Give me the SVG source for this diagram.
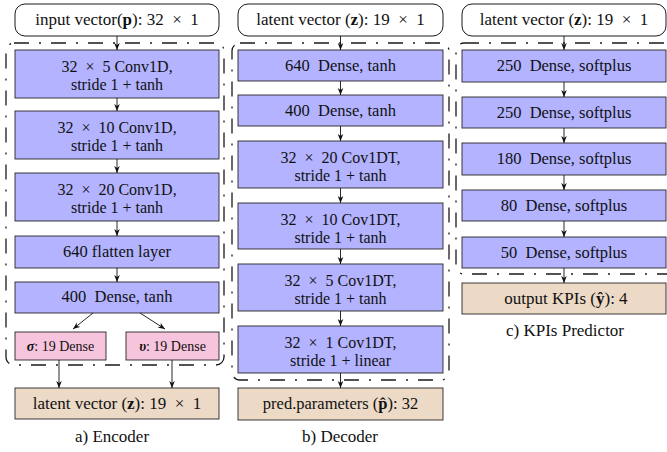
<svg xmlns="http://www.w3.org/2000/svg" width="667" height="452" viewBox="0 0 667 452" font-family="'Liberation Serif', 'DejaVu Serif', serif">
  <style>
    text{font-family:"Liberation Serif","DejaVu Serif",serif;font-size:16.5px;fill:#111;text-anchor:middle}
    .two{font-size:16px}
    .lbl{font-size:17px}
    .sm{font-size:14px}
    .cap{font-size:17px}
    .blk{fill:#b3b3ff;stroke:#262626;stroke-width:0.9}
    .pink{fill:#f7c4dd;stroke:#262626;stroke-width:0.9}
    .tan{fill:#ecd9c6;stroke:#262626;stroke-width:0.9}
    .inp{fill:#fff;stroke:#1a1a1a;stroke-width:1}
    .grp{fill:none;stroke:#1a1a1a;stroke-width:1.3;stroke-dasharray:15 10 2 10}
    .arr{fill:none;stroke:#111;stroke-width:0.9;marker-end:url(#ah)}
    .b{font-weight:bold}
    .bi{font-weight:bold;font-style:italic}
  </style>
  <defs>
    <marker id="ah" viewBox="0 0 10 10" refX="10" refY="5" markerWidth="7" markerHeight="7" orient="auto" markerUnits="userSpaceOnUse">
      <path d="M0,1 L10,5 L0,9 L3,5 z" fill="#111"/>
    </marker>
  </defs>

  <!-- dash-dot frames around each network -->
  <g id="frames">
    <rect class="grp" x="6" y="43" width="218" height="322" rx="8"/>
    <rect class="grp" x="232" y="43" width="217" height="337" rx="8"/>
    <rect class="grp" x="456" y="43" width="222" height="231" rx="8"/>
  </g>

  <!-- a) Encoder -->
  <g id="enc-in"><rect class="inp" x="15" y="4" width="204" height="32" rx="10"/>
    <text class="lbl" x="117" y="25">input vector(<tspan class="b">p</tspan>): 32 &#160;× &#160;1</text></g>
  <g id="enc-conv5"><rect class="blk" x="15" y="50" width="204" height="48"/>
    <text class="two" x="117" y="72">32 &#160;× &#160;5 Conv1D,<tspan x="117" dy="18">stride 1 + tanh</tspan></text></g>
  <g id="enc-conv10"><rect class="blk" x="15" y="111" width="204" height="48"/>
    <text class="two" x="117" y="133">32 &#160;× &#160;10 Conv1D,<tspan x="117" dy="18">stride 1 + tanh</tspan></text></g>
  <g id="enc-conv20"><rect class="blk" x="15" y="173" width="204" height="48"/>
    <text class="two" x="117" y="195">32 &#160;× &#160;20 Conv1D,<tspan x="117" dy="18">stride 1 + tanh</tspan></text></g>
  <g id="enc-flat"><rect class="blk" x="15" y="236" width="204" height="32"/>
    <text x="117" y="257">640 flatten layer</text></g>
  <g id="enc-dense"><rect class="blk" x="15" y="282" width="204" height="31"/>
    <text x="117" y="302">400 &#160;Dense, tanh</text></g>
  <g id="enc-sigma"><rect class="pink" x="15" y="332" width="91" height="28"/>
    <text class="sm" x="60.5" y="351"><tspan class="bi">σ</tspan>: 19 Dense</text></g>
  <g id="enc-upsilon"><rect class="pink" x="126" y="332" width="93" height="28"/>
    <text class="sm" x="172.5" y="351"><tspan class="bi">υ</tspan>: 19 Dense</text></g>
  <g id="enc-out"><rect class="tan" x="15" y="388" width="204" height="31"/>
    <text class="lbl" x="117" y="409">latent vector (<tspan class="b">z</tspan>): 19 &#160;× &#160;1</text></g>
  <text class="cap" x="112" y="442">a) Encoder</text>

  <!-- b) Decoder -->
  <g id="dec-in"><rect class="inp" x="238" y="4" width="205" height="32" rx="10"/>
    <text class="lbl" x="340.5" y="25">latent vector (<tspan class="b">z</tspan>): 19 &#160;× &#160;1</text></g>
  <g id="dec-d640"><rect class="blk" x="238" y="50" width="205" height="31"/>
    <text x="340.5" y="71">640 &#160;Dense, tanh</text></g>
  <g id="dec-d400"><rect class="blk" x="238" y="95" width="205" height="31"/>
    <text x="340.5" y="116">400 &#160;Dense, tanh</text></g>
  <g id="dec-t20"><rect class="blk" x="238" y="141" width="205" height="47"/>
    <text class="two" x="340.5" y="163">32 &#160;× &#160;20 Cov1DT,<tspan x="340.5" dy="18">stride 1 + tanh</tspan></text></g>
  <g id="dec-t10"><rect class="blk" x="238" y="203" width="205" height="46"/>
    <text class="two" x="340.5" y="225">32 &#160;× &#160;10 Cov1DT,<tspan x="340.5" dy="18">stride 1 + tanh</tspan></text></g>
  <g id="dec-t5"><rect class="blk" x="238" y="264" width="205" height="47"/>
    <text class="two" x="340.5" y="286">32 &#160;× &#160;5 Cov1DT,<tspan x="340.5" dy="18">stride 1 + tanh</tspan></text></g>
  <g id="dec-t1"><rect class="blk" x="238" y="326" width="205" height="47"/>
    <text class="two" x="340.5" y="348">32 &#160;× &#160;1 Cov1DT,<tspan x="340.5" dy="18">stride 1 + linear</tspan></text></g>
  <g id="dec-out"><rect class="tan" x="238" y="388" width="205" height="32"/>
    <text x="340.5" y="409">pred.parameters (<tspan class="b">p̂</tspan>): 32</text></g>
  <text class="cap" x="340" y="442">b) Decoder</text>

  <!-- c) KPIs Predictor -->
  <g id="kpi-in"><rect class="inp" x="462" y="4" width="204" height="32" rx="10"/>
    <text class="lbl" x="564" y="25">latent vector (<tspan class="b">z</tspan>): 19 &#160;× &#160;1</text></g>
  <g id="kpi-d250a"><rect class="blk" x="462" y="50" width="204" height="32"/>
    <text x="564" y="71">250 &#160;Dense, softplus</text></g>
  <g id="kpi-d250b"><rect class="blk" x="462" y="97" width="204" height="31"/>
    <text x="564" y="118">250 &#160;Dense, softplus</text></g>
  <g id="kpi-d180"><rect class="blk" x="462" y="143" width="204" height="32"/>
    <text x="564" y="164">180 &#160;Dense, softplus</text></g>
  <g id="kpi-d80"><rect class="blk" x="462" y="190" width="204" height="31"/>
    <text x="564" y="211">80 &#160;Dense, softplus</text></g>
  <g id="kpi-d50"><rect class="blk" x="462" y="237" width="204" height="31"/>
    <text x="564" y="258">50 &#160;Dense, softplus</text></g>
  <g id="kpi-out"><rect class="tan" x="462" y="283" width="204" height="31"/>
    <text class="lbl" x="566" y="304">output KPIs (<tspan class="b">ŷ</tspan>): 4</text></g>
  <text class="cap" x="565" y="336">c) KPIs Predictor</text>

  <!-- connectors -->
  <g id="connectors">
    <line class="arr" x1="117" y1="36" x2="117" y2="50"/>
    <line class="arr" x1="117" y1="98" x2="117" y2="111"/>
    <line class="arr" x1="117" y1="159" x2="117" y2="173"/>
    <line class="arr" x1="117" y1="221" x2="117" y2="236"/>
    <line class="arr" x1="117" y1="268" x2="117" y2="282"/>
    <line class="arr" x1="93" y1="313" x2="73" y2="329"/>
    <line class="arr" x1="140" y1="313" x2="165" y2="329"/>
    <line class="arr" x1="59" y1="360" x2="59" y2="388"/>
    <line class="arr" x1="172" y1="360" x2="172" y2="388"/>

    <line class="arr" x1="340.5" y1="36" x2="340.5" y2="50"/>
    <line class="arr" x1="340.5" y1="81" x2="340.5" y2="95"/>
    <line class="arr" x1="340.5" y1="126" x2="340.5" y2="141"/>
    <line class="arr" x1="340.5" y1="188" x2="340.5" y2="203"/>
    <line class="arr" x1="340.5" y1="249" x2="340.5" y2="264"/>
    <line class="arr" x1="340.5" y1="311" x2="340.5" y2="326"/>
    <line class="arr" x1="340.5" y1="373" x2="340.5" y2="388"/>

    <line class="arr" x1="564" y1="36" x2="564" y2="50"/>
    <line class="arr" x1="564" y1="82" x2="564" y2="97"/>
    <line class="arr" x1="564" y1="128" x2="564" y2="143"/>
    <line class="arr" x1="564" y1="175" x2="564" y2="190"/>
    <line class="arr" x1="564" y1="221" x2="564" y2="237"/>
    <line class="arr" x1="564" y1="268" x2="564" y2="283"/>
  </g>
</svg>
